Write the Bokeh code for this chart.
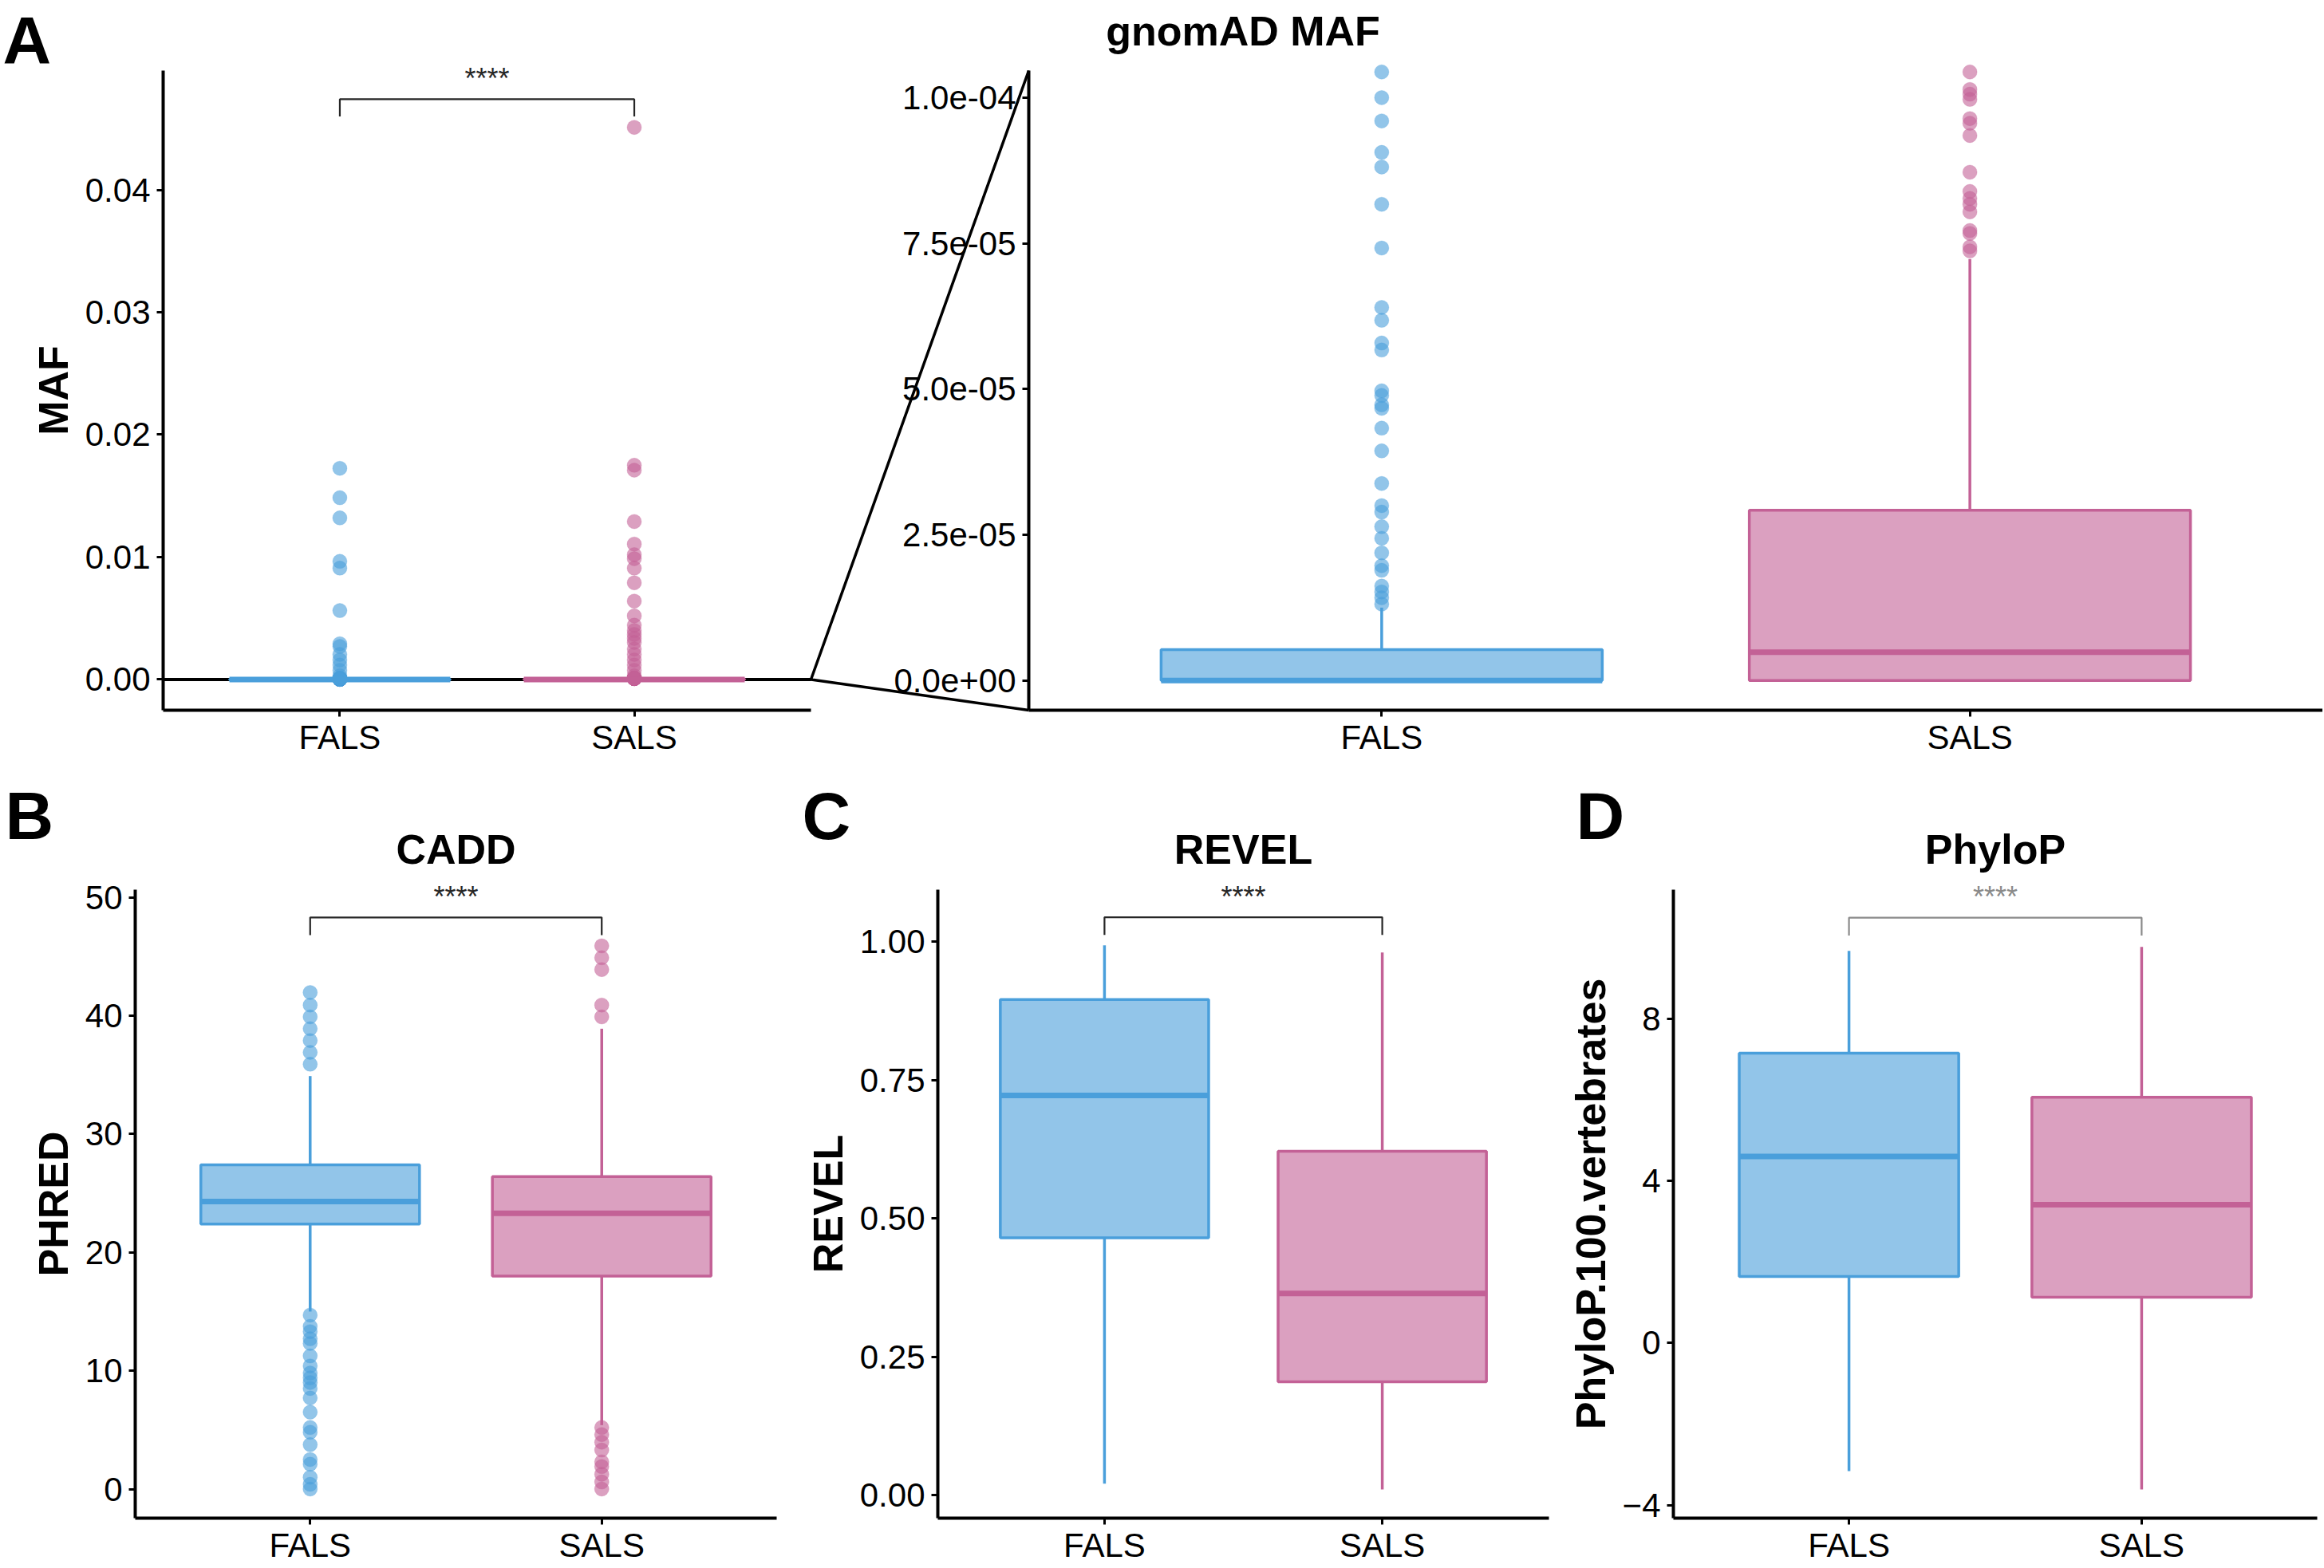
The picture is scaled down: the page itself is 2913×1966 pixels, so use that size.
from bokeh.plotting import figure
from bokeh.models import Range1d, LinearAxis, FixedTicker, NumeralTickFormatter
from bokeh.layouts import column, row
from bokeh.embed import file_html
from bokeh.resources import INLINE
from bokeh.core.properties import value

FONT = "Liberation Sans"

# ---------------------------------------------------------------- data
GROUPS = ["FALS", "SALS"]
GROUP_X = [1, 2]

# box statistics: lower whisker, Q1, median, Q3, upper whisker
MAF_FALS_STATS = [0.0, 0.0, 0.0, 5.3e-06, 1.25e-05]
MAF_SALS_STATS = [0.0, 0.0, 4.85e-06, 2.92e-05, 7.23e-05]
MAF_FALS_OUTLIERS = [1.31e-05, 1.42e-05, 1.52e-05, 1.62e-05, 1.89e-05, 1.97e-05, 2.19e-05,
                     2.44e-05, 2.64e-05, 2.89e-05, 3.0e-05, 3.38e-05, 3.94e-05, 4.33e-05,
                     4.67e-05, 4.73e-05, 4.89e-05, 4.97e-05, 5.67e-05, 5.79e-05, 6.18e-05,
                     6.4e-05, 7.42e-05, 8.17e-05, 8.81e-05, 9.06e-05, 9.6e-05, 1.0e-04,
                     1.044e-04, 3.0e-04, 7.5e-04, 1.18e-03, 1.6e-03, 2.05e-03, 2.7e-03,
                     2.92e-03, 5.63e-03, 9.1e-03, 9.65e-03, 1.32e-02, 1.485e-02, 1.725e-02]
MAF_SALS_OUTLIERS = [7.37e-05, 7.44e-05, 7.67e-05, 7.72e-05, 8.04e-05, 8.17e-05, 8.27e-05,
                     8.39e-05, 8.72e-05, 9.35e-05, 9.56e-05, 9.64e-05, 9.97e-05, 1.006e-04,
                     1.014e-04, 1.044e-04, 3.0e-04, 7.5e-04, 1.18e-03, 1.6e-03, 2.05e-03,
                     2.49e-03, 3.03e-03, 3.36e-03, 3.68e-03, 4.0e-03, 4.44e-03, 5.2e-03,
                     6.4e-03, 7.9e-03, 9.1e-03, 9.87e-03, 1.02e-02, 1.106e-02, 1.29e-02,
                     1.71e-02, 1.75e-02, 4.51e-02]

CADD_FALS_STATS = [15.0, 22.4, 24.3, 27.4, 34.9]
CADD_SALS_STATS = [5.4, 18.0, 23.3, 26.4, 38.9]
CADD_FALS_OUTLIERS = [0.0, 0.4, 1.0, 2.1, 2.5, 3.75, 4.8, 5.2, 6.5, 7.7, 8.5, 9.0, 9.4, 9.8,
                      10.4, 11.25, 12.3, 12.7, 13.3, 13.75, 14.7,
                      35.9, 36.9, 37.9, 38.9, 39.9, 40.9, 41.96]
CADD_SALS_OUTLIERS = [0.0, 0.6, 1.25, 1.9, 2.3, 3.3, 3.96, 4.6, 5.2,
                      39.9, 40.9, 43.9, 44.9, 45.9]

REVEL_FALS_STATS = [0.021, 0.465, 0.722, 0.895, 0.993]
REVEL_SALS_STATS = [0.0107, 0.205, 0.3645, 0.621, 0.980]

PHYLOP_FALS_STATS = [-3.16, 1.64, 4.6, 7.15, 9.67]
PHYLOP_SALS_STATS = [-3.61, 1.13, 3.41, 6.06, 9.77]

# significance brackets: label, bracket level, bracket tip
MAF_SIG = ["****", 0.0474, 0.0460]
CADD_SIG = ["****", 48.3, 46.8]
REVEL_SIG = ["****", 1.0437, 1.0116]
PHYLOP_SIG = ["****", 10.49, 10.05]

# axis ticks
MAF_TICKS = [0.0, 0.01, 0.02, 0.03, 0.04]
MAF_ZOOM_TICKS = [0.0, 2.5e-05, 5.0e-05, 7.5e-05, 1.0e-04]
MAF_ZOOM_TICK_LABELS = ["0.0e+00", "2.5e-05", "5.0e-05", "7.5e-05", "1.0e-04"]
CADD_TICKS = [0, 10, 20, 30, 40, 50]
REVEL_TICKS = [0.0, 0.25, 0.5, 0.75, 1.0]
PHYLOP_TICKS = [-4, 0, 4, 8]

# axis limits
MAF_LIMITS = [-0.00251, 0.04974]
MAF_ZOOM_LIMITS = [-5.1e-06, 1.0464e-04]
CADD_LIMITS = [-2.46, 50.65]
REVEL_LIMITS = [-0.0413, 1.0935]
PHYLOP_LIMITS = [-4.32, 11.18]

# ---------------------------------------------------------------- style / layout
FALS_COLOR = "#4A9FDB"
SALS_COLOR = "#C36196"
COLORS = [FALS_COLOR, SALS_COLOR]
BLACK_SIG = "#262626"
GREY_SIG = "#8a8a8a"
CAT_START, CAT_END = 0.4, 2.6
BOX_WIDTH = 0.75
POINT_SIZE = 18
TICK_FONT = "42px"
AXIS_TITLE_FONT = "52px"
PANEL_TITLE_FONT = "52px"
LETTER_FONT = "84px"

W_TOTAL = 2911
A_H = 960
R_H = 1964 - A_H


def x_range_for(lo, hi, p0, p1, total):
    k = (hi - lo) / (p1 - p0)
    return Range1d(lo - p0 * k, hi + (total - p1) * k)


def y_range_for(lo, hi, p_top, p_bot, total):
    k = (hi - lo) / (p_bot - p_top)
    return Range1d(lo - (total - p_bot) * k, hi + p_top * k)


def px_x(r, total, px):
    return r.start + (r.end - r.start) * px / total


def px_y(r, total, py):
    return r.end - (r.end - r.start) * py / total


def style_axis(ax, label=None, standoff=8):
    ax.axis_line_width = 4
    ax.axis_line_color = "black"
    ax.major_tick_line_width = 3
    ax.major_tick_line_color = "black"
    ax.major_tick_out = 8
    ax.major_tick_in = 0
    ax.minor_tick_line_color = None
    ax.major_label_text_font = FONT
    ax.major_label_text_font_size = TICK_FONT
    ax.major_label_text_color = "black"
    ax.major_label_standoff = standoff
    ax.axis_label_text_font = FONT
    ax.axis_label_text_font_size = AXIS_TITLE_FONT
    ax.axis_label_text_font_style = "bold"
    ax.axis_label_text_color = "black"
    ax.axis_label_standoff = 8
    if label is not None:
        ax.axis_label = label


def add_axes(p, limits, ticks, label, rn="default", overrides=None, fmt=None):
    yax = LinearAxis(x_range_name=rn, y_range_name=rn, fixed_location=CAT_START,
                     bounds=tuple(limits), ticker=FixedTicker(ticks=ticks))
    style_axis(yax, label, standoff=8)
    if overrides:
        yax.major_label_overrides = overrides
    if fmt:
        yax.formatter = NumeralTickFormatter(format=fmt)
    p.add_layout(yax, "left")
    xax = LinearAxis(x_range_name=rn, y_range_name=rn, fixed_location=limits[0],
                     bounds=(CAT_START, CAT_END), ticker=FixedTicker(ticks=GROUP_X),
                     major_label_overrides={k: v for k, v in zip(GROUP_X, GROUPS)})
    style_axis(xax, standoff=2)
    p.add_layout(xax, "below")


def draw_box(p, xpos, stats, outliers, color, rn="default"):
    kw = dict(x_range_name=rn, y_range_name=rn)
    lw, q1, med, q3, uw = stats
    half = BOX_WIDTH / 2
    if outliers:
        p.scatter(x=[xpos] * len(outliers), y=outliers, size=POINT_SIZE, fill_color=color,
                  fill_alpha=0.6, line_color=color, line_alpha=0.25, **kw)
    p.segment(x0=[xpos, xpos], y0=[lw, q3], x1=[xpos, xpos], y1=[q1, uw],
              line_color=color, line_width=3.5, **kw)
    p.quad(left=[xpos - half], right=[xpos + half], bottom=[q1], top=[q3],
           fill_color=color, fill_alpha=0.6, line_color=color, line_width=3.5, **kw)
    p.segment(x0=[xpos - half], y0=[med], x1=[xpos + half], y1=[med],
              line_color=color, line_width=7, **kw)


def draw_sig(p, sig, color):
    label, ytop, ybot = sig
    p.line(x=[GROUP_X[0], GROUP_X[0], GROUP_X[1], GROUP_X[1]], y=[ybot, ytop, ytop, ybot],
           line_color=color, line_width=2.2)
    p.text(x=[(GROUP_X[0] + GROUP_X[1]) / 2], y=[ytop], text=[label], text_align="center",
           text_baseline="alphabetic", y_offset=-26, text_font=value(FONT),
           text_font_size="36px", text_color=color)


def add_text(p, width, height, px, py, text, size, align="left"):
    xr, yr = p.x_range, p.y_range
    p.text(x=[px_x(xr, width, px)], y=[px_y(yr, height, py)], text=[text],
           text_align=align, text_baseline="alphabetic", text_font=value(FONT),
           text_font_size=size, text_font_style="bold", text_color="black")


def base_figure(width, height, xr, yr):
    p = figure(width=width, height=height, x_range=xr, y_range=yr, toolbar_location=None,
               output_backend="svg", x_axis_location=None, y_axis_location=None,
               min_border=0, min_border_left=0, min_border_right=0,
               min_border_top=0, min_border_bottom=0)
    p.grid.visible = False
    p.outline_line_color = None
    return p


# ---------------------------------------------------------------- panel A
A_LEFT_PX = (204, 1016)      # left panel data area, x pixels
A_ZOOM_PX = (1289, W_TOTAL)  # zoomed panel data area, x pixels
A_Y_PX = (88, 890)           # data area, y pixels (top, bottom)

xr = x_range_for(CAT_START, CAT_END, A_LEFT_PX[0], A_LEFT_PX[1], W_TOTAL)
yr = y_range_for(MAF_LIMITS[0], MAF_LIMITS[1], A_Y_PX[0], A_Y_PX[1], A_H)
pa = base_figure(W_TOTAL, A_H, xr, yr)
pa.extra_x_ranges = {"zoom": x_range_for(CAT_START, CAT_END, A_ZOOM_PX[0], A_ZOOM_PX[1], W_TOTAL)}
pa.extra_y_ranges = {"zoom": y_range_for(MAF_ZOOM_LIMITS[0], MAF_ZOOM_LIMITS[1],
                                         A_Y_PX[0], A_Y_PX[1], A_H)}

add_axes(pa, MAF_LIMITS, MAF_TICKS, "MAF", fmt="0.00")
add_axes(pa, MAF_ZOOM_LIMITS, MAF_ZOOM_TICKS, None, rn="zoom",
         overrides={k: v for k, v in zip(MAF_ZOOM_TICKS, MAF_ZOOM_TICK_LABELS)})

# zoom indicator
x_join = px_x(xr, W_TOTAL, A_ZOOM_PX[0])
pa.line(x=[CAT_START, CAT_END], y=[0, 0], line_color="black", line_width=4)
pa.line(x=[x_join, CAT_END, x_join], y=[MAF_LIMITS[1], 0, MAF_LIMITS[0]],
        line_color="black", line_width=3.5)

for xp, st, out, col in zip(GROUP_X, [MAF_FALS_STATS, MAF_SALS_STATS],
                            [MAF_FALS_OUTLIERS, MAF_SALS_OUTLIERS], COLORS):
    draw_box(pa, xp, st, out, col)
    draw_box(pa, xp, st, out, col, rn="zoom")
draw_sig(pa, MAF_SIG, BLACK_SIG)

add_text(pa, W_TOTAL, A_H, 3, 50, "A", LETTER_FONT)
add_text(pa, W_TOTAL, A_H, (A_LEFT_PX[0] + A_ZOOM_PX[1]) / 2, 38, "gnomAD MAF",
         PANEL_TITLE_FONT, align="center")

# ---------------------------------------------------------------- panels B, C, D
R_Y_PX = (155, 943)  # data area, y pixels (top, bottom) inside the lower figures


def small_panel(width, x0, x1, limits, ticks, ylabel, title, letter, letter_x,
                stats, outliers, sig, sig_color, fmt=None):
    xr_ = x_range_for(CAT_START, CAT_END, x0, x1, width)
    yr_ = y_range_for(limits[0], limits[1], R_Y_PX[0], R_Y_PX[1], R_H)
    p = base_figure(width, R_H, xr_, yr_)
    add_axes(p, limits, ticks, ylabel, fmt=fmt)
    for xp, st, out, col in zip(GROUP_X, stats, outliers, COLORS):
        draw_box(p, xp, st, out, col)
    draw_sig(p, sig, sig_color)
    add_text(p, width, R_H, (x0 + x1) / 2, 104, title, PANEL_TITLE_FONT, align="center")
    add_text(p, width, R_H, letter_x, 62, letter, LETTER_FONT)
    return p


pb = small_panel(985, 169, 973, CADD_LIMITS, CADD_TICKS, "PHRED", "CADD", "B", 6,
                 [CADD_FALS_STATS, CADD_SALS_STATS], [CADD_FALS_OUTLIERS, CADD_SALS_OUTLIERS],
                 CADD_SIG, BLACK_SIG)
pc = small_panel(975, 190, 956, REVEL_LIMITS, REVEL_TICKS, "REVEL", "REVEL", "C", 20,
                 [REVEL_FALS_STATS, REVEL_SALS_STATS], [[], []], REVEL_SIG, BLACK_SIG,
                 fmt="0.00")
pd_ = small_panel(951, 137, 944, PHYLOP_LIMITS, PHYLOP_TICKS, "PhyloP.100.vertebrates",
                  "PhyloP", "D", 15, [PHYLOP_FALS_STATS, PHYLOP_SALS_STATS], [[], []],
                  PHYLOP_SIG, GREY_SIG)

layout = column(pa, row(pb, pc, pd_))
open("out.html", "w").write(file_html(layout, INLINE))
